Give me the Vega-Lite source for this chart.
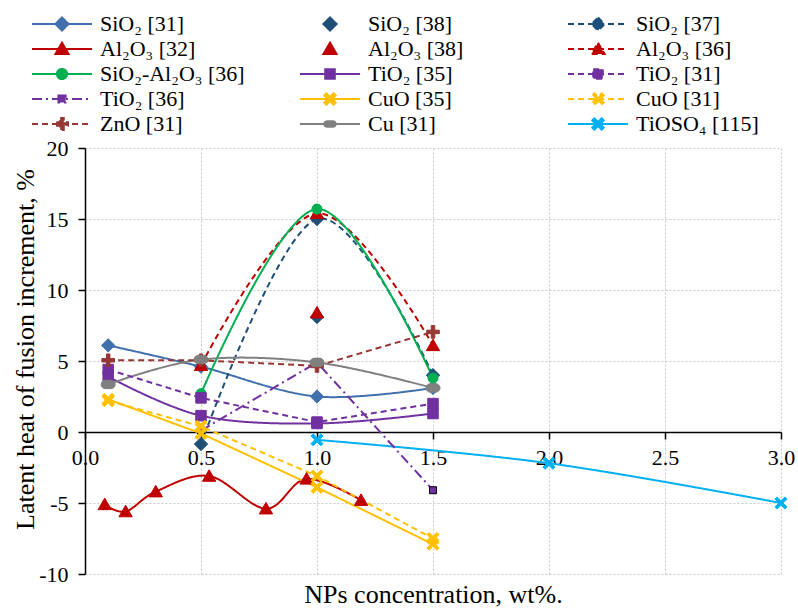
{
  "$schema": "https://vega.github.io/schema/vega-lite/v6.json",
  "width": 696,
  "height": 426,
  "autosize": {"type": "none"},
  "padding": {"left": 85, "top": 148, "right": 17, "bottom": 34},
  "background": "white",
  "config": {
    "view": {"stroke": null},
    "font": "Liberation Serif, Times New Roman, serif",
    "axis": {
      "domainColor": "black",
      "domainWidth": 1.5,
      "tickColor": "black",
      "tickWidth": 1.5,
      "tickSize": 7,
      "labelFont": "Liberation Serif, Times New Roman, serif",
      "labelFontSize": 22,
      "labelColor": "black",
      "titleFont": "Liberation Serif, Times New Roman, serif",
      "titleFontSize": 26,
      "titleFontWeight": "normal",
      "titleColor": "black",
      "gridColor": "#c8c8c8",
      "gridDash": [2, 2],
      "gridWidth": 1
    },
    "legend": {"labelFont": "Liberation Serif, Times New Roman, serif"}
  },
  "datasets": {
    "pts": [
      {"series": "SiO₂ [31]", "x": 0.1, "y": 6.1},
      {"series": "SiO₂ [31]", "x": 0.5, "y": 4.6},
      {"series": "SiO₂ [31]", "x": 1.0, "y": 2.5},
      {"series": "SiO₂ [31]", "x": 1.5, "y": 3.1},
      {"series": "SiO₂ [38]", "x": 1.0, "y": 8.1},
      {"series": "SiO₂ [37]", "x": 0.5, "y": -0.85},
      {"series": "SiO₂ [37]", "x": 1.0, "y": 15.0},
      {"series": "SiO₂ [37]", "x": 1.5, "y": 4.0},
      {"series": "Al₂O₃ [32]", "x": 0.085, "y": -5.1},
      {"series": "Al₂O₃ [32]", "x": 0.175, "y": -5.6},
      {"series": "Al₂O₃ [32]", "x": 0.305, "y": -4.2},
      {"series": "Al₂O₃ [32]", "x": 0.535, "y": -3.1},
      {"series": "Al₂O₃ [32]", "x": 0.78, "y": -5.4},
      {"series": "Al₂O₃ [32]", "x": 0.955, "y": -3.3},
      {"series": "Al₂O₃ [32]", "x": 1.19, "y": -4.8},
      {"series": "Al₂O₃ [38]", "x": 1.0, "y": 8.4},
      {"series": "Al₂O₃ [36]", "x": 0.5, "y": 4.7},
      {"series": "Al₂O₃ [36]", "x": 1.0, "y": 15.4},
      {"series": "Al₂O₃ [36]", "x": 1.5, "y": 6.1},
      {"series": "SiO₂-Al₂O₃ [36]", "x": 0.5, "y": 2.7},
      {"series": "SiO₂-Al₂O₃ [36]", "x": 1.0, "y": 15.7},
      {"series": "SiO₂-Al₂O₃ [36]", "x": 1.5, "y": 3.8},
      {"series": "TiO₂ [35]", "x": 0.1, "y": 3.9},
      {"series": "TiO₂ [35]", "x": 0.5, "y": 1.15},
      {"series": "TiO₂ [35]", "x": 1.0, "y": 0.6},
      {"series": "TiO₂ [35]", "x": 1.5, "y": 1.3},
      {"series": "TiO₂ [31]", "x": 0.1, "y": 4.4},
      {"series": "TiO₂ [31]", "x": 0.5, "y": 2.4},
      {"series": "TiO₂ [31]", "x": 1.0, "y": 0.7},
      {"series": "TiO₂ [31]", "x": 1.5, "y": 2.0},
      {"series": "TiO₂ [36]", "x": 0.5, "y": 0.1},
      {"series": "TiO₂ [36]", "x": 1.0, "y": 4.9},
      {"series": "TiO₂ [36]", "x": 1.5, "y": -4.1},
      {"series": "CuO [35]", "x": 0.1, "y": 2.3},
      {"series": "CuO [35]", "x": 0.5, "y": -0.1},
      {"series": "CuO [35]", "x": 1.0, "y": -3.9},
      {"series": "CuO [35]", "x": 1.5, "y": -7.9},
      {"series": "CuO [31]", "x": 0.1, "y": 2.2},
      {"series": "CuO [31]", "x": 0.5, "y": 0.4},
      {"series": "CuO [31]", "x": 1.0, "y": -3.1},
      {"series": "CuO [31]", "x": 1.5, "y": -7.5},
      {"series": "ZnO [31]", "x": 0.1, "y": 5.05},
      {"series": "ZnO [31]", "x": 0.5, "y": 5.05},
      {"series": "ZnO [31]", "x": 1.0, "y": 4.65},
      {"series": "ZnO [31]", "x": 1.5, "y": 7.05},
      {"series": "Cu [31]", "x": 0.1, "y": 3.35},
      {"series": "Cu [31]", "x": 0.5, "y": 5.1},
      {"series": "Cu [31]", "x": 1.0, "y": 4.9},
      {"series": "Cu [31]", "x": 1.5, "y": 3.1},
      {"series": "TiOSO₄ [115]", "x": 1.0, "y": -0.55},
      {"series": "TiOSO₄ [115]", "x": 2.0, "y": -2.2},
      {"series": "TiOSO₄ [115]", "x": 3.0, "y": -5.0}
    ]
  },
  "data": {"name": "pts"},
  "resolve": {"scale": {"fill": "independent", "stroke": "independent", "shape": "independent", "strokeDash": "independent"}},
  "encoding": {
    "x": {"field": "x", "type": "quantitative", "scale": {"domain": [0, 3], "nice": false},
      "axis": {"title": "NPs concentration, wt%.", "values": [0, 0.5, 1, 1.5, 2, 2.5, 3], "format": ".1f", "offset": -142, "grid": true, "labelPadding": 8, "titleY": 170, "titleBaseline": "alphabetic", "labelOverlap": false, "labelFlush": false}},
    "y": {"field": "y", "type": "quantitative", "scale": {"domain": [-10, 20], "nice": false},
      "axis": {"title": "Latent heat of fusion increment, %", "values": [-10, -5, 0, 5, 10, 15, 20], "labelExpr": "'' + datum.value", "grid": true, "labelPadding": 10, "titleX": -60, "titleY": 201, "titleAngle": -90, "titleAlign": "center", "titleBaseline": "middle"}}
  },
  "layer": [
    {
      "transform": [{"filter": {"field": "series", "oneOf": ["SiO₂ [31]", "SiO₂ [37]", "Al₂O₃ [32]", "Al₂O₃ [36]", "SiO₂-Al₂O₃ [36]", "TiO₂ [35]", "Cu [31]", "TiOSO₄ [115]"]}}],
      "mark": {"type": "line", "interpolate": "cardinal", "strokeWidth": 2},
      "encoding": {
        "detail": {"field": "series"},
        "stroke": {"field": "series", "type": "nominal", "legend": null,
          "scale": {"domain": ["SiO₂ [31]", "SiO₂ [38]", "SiO₂ [37]", "Al₂O₃ [32]", "Al₂O₃ [38]", "Al₂O₃ [36]", "SiO₂-Al₂O₃ [36]", "TiO₂ [35]", "TiO₂ [31]", "TiO₂ [36]", "CuO [35]", "CuO [31]", "ZnO [31]", "Cu [31]", "TiOSO₄ [115]"],
            "range": ["#4170AC", "#1F4E79", "#1F4E79", "#C00000", "#C00000", "#C00000", "#00B050", "#7030A0", "#7030A0", "#7030A0", "#FFC000", "#FFC000", "#953735", "#808080", "#00B0F0"]}},
        "strokeDash": {"field": "series", "type": "nominal", "legend": null,
          "scale": {"domain": ["SiO₂ [31]", "SiO₂ [38]", "SiO₂ [37]", "Al₂O₃ [32]", "Al₂O₃ [38]", "Al₂O₃ [36]", "SiO₂-Al₂O₃ [36]", "TiO₂ [35]", "TiO₂ [31]", "TiO₂ [36]", "CuO [35]", "CuO [31]", "ZnO [31]", "Cu [31]", "TiOSO₄ [115]"],
            "range": [[1, 0], [1, 0], [6, 4], [1, 0], [1, 0], [6, 4], [1, 0], [1, 0], [6, 4], [10, 4, 2, 4], [1, 0], [6, 4], [6, 4], [1, 0], [1, 0]]}}
      }
    },
    {
      "transform": [{"filter": {"field": "series", "oneOf": ["TiO₂ [31]", "TiO₂ [36]", "CuO [35]", "CuO [31]", "ZnO [31]"]}}],
      "mark": {"type": "line", "strokeWidth": 2},
      "encoding": {
        "detail": {"field": "series"},
        "stroke": {"field": "series", "type": "nominal", "legend": null,
          "scale": {"domain": ["SiO₂ [31]", "SiO₂ [38]", "SiO₂ [37]", "Al₂O₃ [32]", "Al₂O₃ [38]", "Al₂O₃ [36]", "SiO₂-Al₂O₃ [36]", "TiO₂ [35]", "TiO₂ [31]", "TiO₂ [36]", "CuO [35]", "CuO [31]", "ZnO [31]", "Cu [31]", "TiOSO₄ [115]"],
            "range": ["#4170AC", "#1F4E79", "#1F4E79", "#C00000", "#C00000", "#C00000", "#00B050", "#7030A0", "#7030A0", "#7030A0", "#FFC000", "#FFC000", "#953735", "#808080", "#00B0F0"]}},
        "strokeDash": {"field": "series", "type": "nominal", "legend": null,
          "scale": {"domain": ["SiO₂ [31]", "SiO₂ [38]", "SiO₂ [37]", "Al₂O₃ [32]", "Al₂O₃ [38]", "Al₂O₃ [36]", "SiO₂-Al₂O₃ [36]", "TiO₂ [35]", "TiO₂ [31]", "TiO₂ [36]", "CuO [35]", "CuO [31]", "ZnO [31]", "Cu [31]", "TiOSO₄ [115]"],
            "range": [[1, 0], [1, 0], [6, 4], [1, 0], [1, 0], [6, 4], [1, 0], [1, 0], [6, 4], [10, 4, 2, 4], [1, 0], [6, 4], [6, 4], [1, 0], [1, 0]]}}
      }
    },
    {
      "mark": {"type": "point", "filled": true, "size": 196, "strokeWidth": 1, "opacity": 1},
      "encoding": {
        "fill": {"field": "series", "type": "nominal", "legend": null,
          "scale": {"domain": ["SiO₂ [31]", "SiO₂ [38]", "SiO₂ [37]", "Al₂O₃ [32]", "Al₂O₃ [38]", "Al₂O₃ [36]", "SiO₂-Al₂O₃ [36]", "TiO₂ [35]", "TiO₂ [31]", "TiO₂ [36]", "CuO [35]", "CuO [31]", "ZnO [31]", "Cu [31]", "TiOSO₄ [115]"],
            "range": ["#4170AC", "#1F4E79", "#1F4E79", "#C00000", "#C00000", "#C00000", "#00B050", "#7030A0", "#7030A0", "#7030A0", "#FFC000", "#FFC000", "#953735", "#808080", "#00B0F0"]}},
        "stroke": {"field": "series", "type": "nominal", "legend": null,
          "scale": {"domain": ["SiO₂ [31]", "SiO₂ [38]", "SiO₂ [37]", "Al₂O₃ [32]", "Al₂O₃ [38]", "Al₂O₃ [36]", "SiO₂-Al₂O₃ [36]", "TiO₂ [35]", "TiO₂ [31]", "TiO₂ [36]", "CuO [35]", "CuO [31]", "ZnO [31]", "Cu [31]", "TiOSO₄ [115]"],
            "range": ["#4170AC", "#1F4E79", "#1F4E79", "#C00000", "#C00000", "#C00000", "#00B050", "#7030A0", "#7030A0", "#000000", "#FFC000", "#FFC000", "#953735", "#808080", "#00B0F0"]}},
        "shape": {"field": "series", "type": "nominal", "legend": null,
          "scale": {"domain": ["SiO₂ [31]", "SiO₂ [38]", "SiO₂ [37]", "Al₂O₃ [32]", "Al₂O₃ [38]", "Al₂O₃ [36]", "SiO₂-Al₂O₃ [36]", "TiO₂ [35]", "TiO₂ [31]", "TiO₂ [36]", "CuO [35]", "CuO [31]", "ZnO [31]", "Cu [31]", "TiOSO₄ [115]"],
            "range": [
              "M0,-0.95L0.95,0L0,0.95L-0.95,0Z",
              "M0,-0.95L0.95,0L0,0.95L-0.95,0Z",
              "M0,-0.95L0.95,0L0,0.95L-0.95,0Z",
              "M0,-0.9L0.95,0.75L-0.95,0.75Z",
              "M0,-0.9L0.95,0.75L-0.95,0.75Z",
              "M0,-0.9L0.95,0.75L-0.95,0.75Z",
              "M-0.72,0A0.72,0.72,0,1,0,0.72,0A0.72,0.72,0,1,0,-0.72,0Z",
              "M-0.75,-0.75L0.75,-0.75L0.75,0.75L-0.75,0.75Z",
              "M-0.75,-0.75L0.75,-0.75L0.75,0.75L-0.75,0.75Z",
              "M-0.5,-0.5L0.5,-0.5L0.5,0.5L-0.5,0.5Z",
              "M0.55,-0.86L0.86,-0.55L0.31,0L0.86,0.55L0.55,0.86L0,0.31L-0.55,0.86L-0.86,0.55L-0.31,0L-0.86,-0.55L-0.55,-0.86L0,-0.31Z",
              "M0.55,-0.86L0.86,-0.55L0.31,0L0.86,0.55L0.55,0.86L0,0.31L-0.55,0.86L-0.86,0.55L-0.31,0L-0.86,-0.55L-0.55,-0.86L0,-0.31Z",
              "M-0.25,-0.9L0.25,-0.9L0.25,-0.25L0.9,-0.25L0.9,0.25L0.25,0.25L0.25,0.9L-0.25,0.9L-0.25,0.25L-0.9,0.25L-0.9,-0.25L-0.25,-0.25Z",
              "M-0.4,-0.6L0.4,-0.6A0.6,0.6,0,0,1,0.4,0.6L-0.4,0.6A0.6,0.6,0,0,1,-0.4,-0.6Z",
              "M0.55,-0.86L0.86,-0.55L0.31,0L0.86,0.55L0.55,0.86L0,0.31L-0.55,0.86L-0.86,0.55L-0.31,0L-0.86,-0.55L-0.55,-0.86L0,-0.31Z"
            ]}}
      }
    },
    {
      "transform": [{"filter": "false"}],
      "mark": {"type": "point", "filled": true, "strokeWidth": 2},
      "encoding": {
        "fill": {"field": "series", "type": "nominal",
          "scale": {"domain": ["SiO₂ [31]", "SiO₂ [38]", "SiO₂ [37]", "Al₂O₃ [32]", "Al₂O₃ [38]", "Al₂O₃ [36]", "SiO₂-Al₂O₃ [36]", "TiO₂ [35]", "TiO₂ [31]", "TiO₂ [36]", "CuO [35]", "CuO [31]", "ZnO [31]", "Cu [31]", "TiOSO₄ [115]"],
            "range": ["#4170AC", "#1F4E79", "#1F4E79", "#C00000", "#C00000", "#C00000", "#00B050", "#7030A0", "#7030A0", "#7030A0", "#FFC000", "#FFC000", "#953735", "#808080", "#00B0F0"]},
          "legend": {"title": null, "orient": "none", "direction": "horizontal", "legendX": -54, "legendY": -135, "columns": 3, "gridAlign": "all", "columnPadding": 51, "rowPadding": 3, "symbolSize": 400, "symbolStrokeWidth": 2, "labelFont": "Liberation Serif, Times New Roman, serif", "labelFontSize": 22, "labelColor": "black", "labelOffset": 47, "labelLimit": 300, "symbolOpacity": 1, "padding": 0}},
        "stroke": {"field": "series", "type": "nominal",
          "scale": {"domain": ["SiO₂ [31]", "SiO₂ [38]", "SiO₂ [37]", "Al₂O₃ [32]", "Al₂O₃ [38]", "Al₂O₃ [36]", "SiO₂-Al₂O₃ [36]", "TiO₂ [35]", "TiO₂ [31]", "TiO₂ [36]", "CuO [35]", "CuO [31]", "ZnO [31]", "Cu [31]", "TiOSO₄ [115]"],
            "range": ["#4170AC", "#1F4E79", "#1F4E79", "#C00000", "#C00000", "#C00000", "#00B050", "#7030A0", "#7030A0", "#7030A0", "#FFC000", "#FFC000", "#953735", "#808080", "#00B0F0"]},
          "legend": {"title": null, "orient": "none", "direction": "horizontal", "legendX": -54, "legendY": -135, "columns": 3, "gridAlign": "all", "columnPadding": 51, "rowPadding": 3, "symbolSize": 400, "symbolStrokeWidth": 2, "labelFont": "Liberation Serif, Times New Roman, serif", "labelFontSize": 22, "labelColor": "black", "labelOffset": 47, "labelLimit": 300, "symbolOpacity": 1, "padding": 0}},
        "strokeDash": {"field": "series", "type": "nominal",
          "scale": {"domain": ["SiO₂ [31]", "SiO₂ [38]", "SiO₂ [37]", "Al₂O₃ [32]", "Al₂O₃ [38]", "Al₂O₃ [36]", "SiO₂-Al₂O₃ [36]", "TiO₂ [35]", "TiO₂ [31]", "TiO₂ [36]", "CuO [35]", "CuO [31]", "ZnO [31]", "Cu [31]", "TiOSO₄ [115]"],
            "range": [[1, 0], [1, 0], [6, 4], [1, 0], [1, 0], [6, 4], [1, 0], [1, 0], [6, 4], [10, 4, 2, 4], [1, 0], [6, 4], [6, 4], [1, 0], [1, 0]]},
          "legend": {"title": null, "orient": "none", "direction": "horizontal", "legendX": -54, "legendY": -135, "columns": 3, "gridAlign": "all", "columnPadding": 51, "rowPadding": 3, "symbolSize": 400, "symbolStrokeWidth": 2, "labelFont": "Liberation Serif, Times New Roman, serif", "labelFontSize": 22, "labelColor": "black", "labelOffset": 47, "labelLimit": 300, "symbolOpacity": 1, "padding": 0}},
        "shape": {"field": "series", "type": "nominal",
          "scale": {"domain": ["SiO₂ [31]", "SiO₂ [38]", "SiO₂ [37]", "Al₂O₃ [32]", "Al₂O₃ [38]", "Al₂O₃ [36]", "SiO₂-Al₂O₃ [36]", "TiO₂ [35]", "TiO₂ [31]", "TiO₂ [36]", "CuO [35]", "CuO [31]", "ZnO [31]", "Cu [31]", "TiOSO₄ [115]"],
            "range": [
              "M-1,0L5,0M2,-0.66L2.66,0L2,0.66L1.34,0Z",
              "M2,-0.66L2.66,0L2,0.66L1.34,0Z",
              "M-1,0L5,0M2,-0.66L2.66,0L2,0.66L1.34,0Z",
              "M-1,0L5,0M2,-0.63L2.66,0.51L1.34,0.51Z",
              "M2,-0.63L2.66,0.51L1.34,0.51Z",
              "M-1,0L5,0M2,-0.63L2.66,0.51L1.34,0.51Z",
              "M-1,0L5,0M1.49,0A0.51,0.51,0,1,0,2.51,0A0.51,0.51,0,1,0,1.49,0Z",
              "M-1,0L5,0M1.52,-0.48L2.48,-0.48L2.48,0.48L1.52,0.48Z",
              "M-1,0L5,0M1.52,-0.48L2.48,-0.48L2.48,0.48L1.52,0.48Z",
              "M-1,0L5,0M1.64,-0.36L2.36,-0.36L2.36,0.36L1.64,0.36Z",
              "M-1,0L5,0M2.36,-0.57L2.57,-0.36L2.21,0L2.57,0.36L2.36,0.57L2,0.21L1.64,0.57L1.43,0.36L1.79,0L1.43,-0.36L1.64,-0.57L2,-0.21Z",
              "M-1,0L5,0M2.36,-0.57L2.57,-0.36L2.21,0L2.57,0.36L2.36,0.57L2,0.21L1.64,0.57L1.43,0.36L1.79,0L1.43,-0.36L1.64,-0.57L2,-0.21Z",
              "M-1,0L5,0M1.82,-0.6L2.18,-0.6L2.18,-0.18L2.6,-0.18L2.6,0.18L2.18,0.18L2.18,0.6L1.82,0.6L1.82,0.18L1.4,0.18L1.4,-0.18L1.82,-0.18Z",
              "M-1,0L5,0M1.7,-0.27L2.3,-0.27A0.27,0.27,0,0,1,2.3,0.27L1.7,0.27A0.27,0.27,0,0,1,1.7,-0.27Z",
              "M-1,0L5,0M2.36,-0.57L2.57,-0.36L2.21,0L2.57,0.36L2.36,0.57L2,0.21L1.64,0.57L1.43,0.36L1.79,0L1.43,-0.36L1.64,-0.57L2,-0.21Z"
            ]},
          "legend": {"title": null, "orient": "none", "direction": "horizontal", "legendX": -54, "legendY": -135, "columns": 3, "gridAlign": "all", "columnPadding": 51, "rowPadding": 3, "symbolSize": 400, "symbolStrokeWidth": 2, "labelFont": "Liberation Serif, Times New Roman, serif", "labelFontSize": 22, "labelColor": "black", "labelOffset": 47, "labelLimit": 300, "symbolOpacity": 1, "padding": 0}}
      }
    }
  ]
}
